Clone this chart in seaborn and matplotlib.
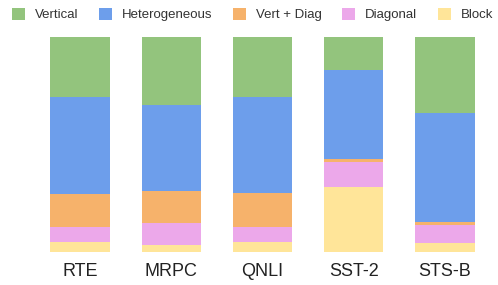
import numpy as np
import pandas as pd
import seaborn as sns
import matplotlib.pyplot as plt
from matplotlib.patches import Patch

# data (percent of each task)
tasks = ["RTE", "MRPC", "QNLI", "SST-2", "STS-B"]
vertical = [28.0, 31.9, 27.9, 15.4, 35.5]
heterogeneous = [45.4, 39.9, 44.8, 41.4, 50.7]
vert_diag = [15.1, 15.0, 15.7, 1.5, 1.5]
diagonal = [7.1, 10.2, 7.1, 11.5, 8.4]
block = [4.4, 3.0, 4.5, 30.2, 3.9]

names = ["Vertical", "Heterogeneous", "Vert + Diag", "Diagonal", "Block"]
colors = ["#93c47d", "#6d9eeb", "#f6b26b", "#eca8ea", "#ffe599"]

df = pd.DataFrame({"task": tasks, "Vertical": vertical, "Heterogeneous": heterogeneous,
                   "Vert + Diag": vert_diag, "Diagonal": diagonal, "Block": block})

sns.set_style("white")
plt.rcParams["font.family"] = ["Liberation Sans", "DejaVu Sans"]

fig = plt.figure(figsize=(4.98, 2.85), dpi=100)
ax = fig.add_axes([0.069, 0.117, 0.916, 0.754])

# stack from the bottom: Block, Diagonal, Vert + Diag, Heterogeneous, Vertical
# draw cumulative totals, biggest first, so each layer covers the one above it
order = names[::-1]
cum = df[order].cumsum(axis=1)
for name, col in zip(names, colors):
    sns.barplot(x=df["task"], y=cum[name] / 100, color=col, width=0.65,
                saturation=1, ax=ax, linewidth=0)

ax.set_ylim(0, 1)
ax.set_xlim(-0.5, 4.5)
ax.set_xlabel("")
ax.set_ylabel("")
ax.set_yticks([])
ax.tick_params(axis="x", length=0, pad=8, labelsize=13, labelcolor="#222222")
sns.despine(ax=ax, left=True, bottom=True)

handles = [Patch(facecolor=c, edgecolor="none") for c in colors]
fig.legend(handles, names, loc="center", bbox_to_anchor=(0.507, 0.949), ncol=5,
           frameon=False, fontsize=9.5, handlelength=1.0, handleheight=1.0,
           handletextpad=0.75, columnspacing=1.55, labelcolor="#333333")

fig.savefig("out.png", dpi=100)
